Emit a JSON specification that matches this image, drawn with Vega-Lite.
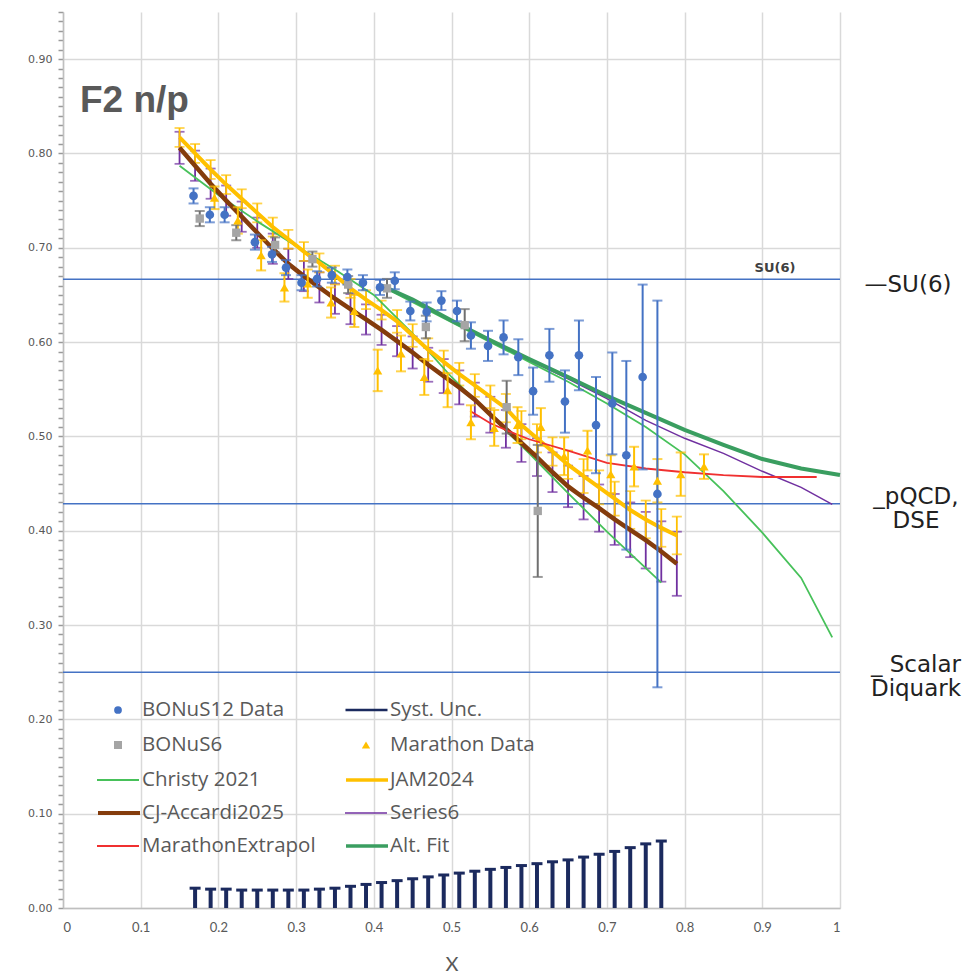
{
  "$schema": "https://vega.github.io/schema/vega-lite/v6.json",
  "width": 777,
  "height": 896,
  "autosize": {"type": "none"},
  "padding": {"left": 63, "top": 12, "right": 139, "bottom": 67},
  "background": "white",
  "config": {
    "view": {"stroke": null},
    "axis": {"domainColor": "#bfbfbf", "domainWidth": 1.5, "gridColor": "#d9d9d9", "gridWidth": 1.5, "tickColor": "#9a9a9a", "labelColor": "#595959"},
    "legend": {"orient": "none", "labelFont": "Open Sans", "labelFontSize": 20.5, "labelColor": "#595959", "labelLimit": 400, "clipHeight": 20, "padding": 0, "symbolSize": 1764, "labelOffset": 2}
  },
  "title": {"text": "F2 n/p", "anchor": "start", "frame": "group", "offset": 0, "dx": 17, "dy": 138, "baseline": "alphabetic", "font": "Liberation Sans", "fontSize": 37, "fontWeight": "bold", "color": "#595959"},
  "resolve": {"scale": {"color": "independent"}},
  "datasets": {
    "refs": [
      {"y": 0.6667, "x0": 0, "x1": 1, "lab": "—SU(6)", "inner": "SU(6)"},
      {"y": 0.4286, "x0": 0, "x1": 1, "lab": "_pQCD,\nDSE", "inner": ""},
      {"y": 0.25, "x0": 0, "x1": 1, "lab": "_ Scalar\nDiquark", "inner": ""}
    ],
    "syst": [
      {"series": "Syst. Unc.", "x": 0.17, "y": 0.021}, {"series": "Syst. Unc.", "x": 0.19, "y": 0.020}, {"series": "Syst. Unc.", "x": 0.21, "y": 0.020}, {"series": "Syst. Unc.", "x": 0.23, "y": 0.019}, {"series": "Syst. Unc.", "x": 0.25, "y": 0.019}, {"series": "Syst. Unc.", "x": 0.27, "y": 0.019}, {"series": "Syst. Unc.", "x": 0.29, "y": 0.019}, {"series": "Syst. Unc.", "x": 0.31, "y": 0.019}, {"series": "Syst. Unc.", "x": 0.33, "y": 0.020}, {"series": "Syst. Unc.", "x": 0.35, "y": 0.021}, {"series": "Syst. Unc.", "x": 0.37, "y": 0.023}, {"series": "Syst. Unc.", "x": 0.39, "y": 0.025}, {"series": "Syst. Unc.", "x": 0.41, "y": 0.027}, {"series": "Syst. Unc.", "x": 0.43, "y": 0.029}, {"series": "Syst. Unc.", "x": 0.45, "y": 0.031}, {"series": "Syst. Unc.", "x": 0.47, "y": 0.033}, {"series": "Syst. Unc.", "x": 0.49, "y": 0.035}, {"series": "Syst. Unc.", "x": 0.51, "y": 0.037}, {"series": "Syst. Unc.", "x": 0.53, "y": 0.039}, {"series": "Syst. Unc.", "x": 0.55, "y": 0.041}, {"series": "Syst. Unc.", "x": 0.57, "y": 0.043}, {"series": "Syst. Unc.", "x": 0.59, "y": 0.045}, {"series": "Syst. Unc.", "x": 0.61, "y": 0.047}, {"series": "Syst. Unc.", "x": 0.63, "y": 0.049}, {"series": "Syst. Unc.", "x": 0.65, "y": 0.051}, {"series": "Syst. Unc.", "x": 0.67, "y": 0.054}, {"series": "Syst. Unc.", "x": 0.69, "y": 0.057}, {"series": "Syst. Unc.", "x": 0.71, "y": 0.060}, {"series": "Syst. Unc.", "x": 0.73, "y": 0.064}, {"series": "Syst. Unc.", "x": 0.75, "y": 0.068}, {"series": "Syst. Unc.", "x": 0.77, "y": 0.071}
    ],
    "cj": [
      {"series": "CJ-Accardi2025", "x": 0.15, "y": 0.806, "e": 0.017}, {"series": "CJ-Accardi2025", "x": 0.17, "y": 0.787, "e": 0.016}, {"series": "CJ-Accardi2025", "x": 0.19, "y": 0.768, "e": 0.016}, {"series": "CJ-Accardi2025", "x": 0.21, "y": 0.750, "e": 0.016}, {"series": "CJ-Accardi2025", "x": 0.23, "y": 0.733, "e": 0.016}, {"series": "CJ-Accardi2025", "x": 0.25, "y": 0.716, "e": 0.016}, {"series": "CJ-Accardi2025", "x": 0.27, "y": 0.699, "e": 0.016}, {"series": "CJ-Accardi2025", "x": 0.29, "y": 0.683, "e": 0.016}, {"series": "CJ-Accardi2025", "x": 0.31, "y": 0.670, "e": 0.016}, {"series": "CJ-Accardi2025", "x": 0.33, "y": 0.658, "e": 0.016}, {"series": "CJ-Accardi2025", "x": 0.35, "y": 0.646, "e": 0.016}, {"series": "CJ-Accardi2025", "x": 0.37, "y": 0.635, "e": 0.016}, {"series": "CJ-Accardi2025", "x": 0.39, "y": 0.624, "e": 0.016}, {"series": "CJ-Accardi2025", "x": 0.41, "y": 0.613, "e": 0.016}, {"series": "CJ-Accardi2025", "x": 0.43, "y": 0.601, "e": 0.016}, {"series": "CJ-Accardi2025", "x": 0.45, "y": 0.589, "e": 0.017}, {"series": "CJ-Accardi2025", "x": 0.47, "y": 0.576, "e": 0.018}, {"series": "CJ-Accardi2025", "x": 0.49, "y": 0.564, "e": 0.018}, {"series": "CJ-Accardi2025", "x": 0.51, "y": 0.552, "e": 0.018}, {"series": "CJ-Accardi2025", "x": 0.53, "y": 0.539, "e": 0.018}, {"series": "CJ-Accardi2025", "x": 0.55, "y": 0.523, "e": 0.019}, {"series": "CJ-Accardi2025", "x": 0.57, "y": 0.508, "e": 0.020}, {"series": "CJ-Accardi2025", "x": 0.59, "y": 0.493, "e": 0.020}, {"series": "CJ-Accardi2025", "x": 0.61, "y": 0.478, "e": 0.020}, {"series": "CJ-Accardi2025", "x": 0.63, "y": 0.462, "e": 0.021}, {"series": "CJ-Accardi2025", "x": 0.65, "y": 0.447, "e": 0.022}, {"series": "CJ-Accardi2025", "x": 0.67, "y": 0.435, "e": 0.023}, {"series": "CJ-Accardi2025", "x": 0.69, "y": 0.424, "e": 0.025}, {"series": "CJ-Accardi2025", "x": 0.71, "y": 0.412, "e": 0.027}, {"series": "CJ-Accardi2025", "x": 0.73, "y": 0.401, "e": 0.029}, {"series": "CJ-Accardi2025", "x": 0.75, "y": 0.390, "e": 0.030}, {"series": "CJ-Accardi2025", "x": 0.77, "y": 0.378, "e": 0.032}, {"series": "CJ-Accardi2025", "x": 0.79, "y": 0.365, "e": 0.034}
    ],
    "jam": [
      {"series": "JAM2024", "x": 0.15, "y": 0.817, "e": 0.010}, {"series": "JAM2024", "x": 0.17, "y": 0.800, "e": 0.010}, {"series": "JAM2024", "x": 0.19, "y": 0.783, "e": 0.010}, {"series": "JAM2024", "x": 0.21, "y": 0.767, "e": 0.010}, {"series": "JAM2024", "x": 0.23, "y": 0.752, "e": 0.010}, {"series": "JAM2024", "x": 0.25, "y": 0.737, "e": 0.010}, {"series": "JAM2024", "x": 0.27, "y": 0.722, "e": 0.010}, {"series": "JAM2024", "x": 0.29, "y": 0.709, "e": 0.010}, {"series": "JAM2024", "x": 0.31, "y": 0.696, "e": 0.010}, {"series": "JAM2024", "x": 0.33, "y": 0.684, "e": 0.010}, {"series": "JAM2024", "x": 0.35, "y": 0.671, "e": 0.010}, {"series": "JAM2024", "x": 0.37, "y": 0.657, "e": 0.010}, {"series": "JAM2024", "x": 0.39, "y": 0.645, "e": 0.010}, {"series": "JAM2024", "x": 0.41, "y": 0.634, "e": 0.010}, {"series": "JAM2024", "x": 0.43, "y": 0.622, "e": 0.012}, {"series": "JAM2024", "x": 0.45, "y": 0.607, "e": 0.012}, {"series": "JAM2024", "x": 0.47, "y": 0.592, "e": 0.012}, {"series": "JAM2024", "x": 0.49, "y": 0.579, "e": 0.012}, {"series": "JAM2024", "x": 0.51, "y": 0.566, "e": 0.012}, {"series": "JAM2024", "x": 0.53, "y": 0.554, "e": 0.012}, {"series": "JAM2024", "x": 0.55, "y": 0.542, "e": 0.012}, {"series": "JAM2024", "x": 0.57, "y": 0.530, "e": 0.015}, {"series": "JAM2024", "x": 0.59, "y": 0.512, "e": 0.015}, {"series": "JAM2024", "x": 0.61, "y": 0.498, "e": 0.015}, {"series": "JAM2024", "x": 0.63, "y": 0.484, "e": 0.015}, {"series": "JAM2024", "x": 0.65, "y": 0.470, "e": 0.015}, {"series": "JAM2024", "x": 0.67, "y": 0.458, "e": 0.018}, {"series": "JAM2024", "x": 0.69, "y": 0.446, "e": 0.018}, {"series": "JAM2024", "x": 0.71, "y": 0.434, "e": 0.018}, {"series": "JAM2024", "x": 0.73, "y": 0.422, "e": 0.020}, {"series": "JAM2024", "x": 0.75, "y": 0.412, "e": 0.020}, {"series": "JAM2024", "x": 0.77, "y": 0.403, "e": 0.020}, {"series": "JAM2024", "x": 0.79, "y": 0.395, "e": 0.020}
    ],
    "curves": [
      {"series": "Christy 2021", "seg": "a", "x": 0.15, "y": 0.787}, {"series": "Christy 2021", "seg": "a", "x": 0.2, "y": 0.756}, {"series": "Christy 2021", "seg": "a", "x": 0.25, "y": 0.728}, {"series": "Christy 2021", "seg": "a", "x": 0.3, "y": 0.702}, {"series": "Christy 2021", "seg": "a", "x": 0.35, "y": 0.677}, {"series": "Christy 2021", "seg": "a", "x": 0.4, "y": 0.650}, {"series": "Christy 2021", "seg": "a", "x": 0.45, "y": 0.609}, {"series": "Christy 2021", "seg": "a", "x": 0.5, "y": 0.563}, {"series": "Christy 2021", "seg": "a", "x": 0.55, "y": 0.522}, {"series": "Christy 2021", "seg": "a", "x": 0.6, "y": 0.482}, {"series": "Christy 2021", "seg": "a", "x": 0.65, "y": 0.440}, {"series": "Christy 2021", "seg": "a", "x": 0.7, "y": 0.399}, {"series": "Christy 2021", "seg": "a", "x": 0.77, "y": 0.345},
      {"series": "Christy 2021", "seg": "b", "x": 0.42, "y": 0.655}, {"series": "Christy 2021", "seg": "b", "x": 0.5, "y": 0.621}, {"series": "Christy 2021", "seg": "b", "x": 0.55, "y": 0.600}, {"series": "Christy 2021", "seg": "b", "x": 0.6, "y": 0.579}, {"series": "Christy 2021", "seg": "b", "x": 0.65, "y": 0.558}, {"series": "Christy 2021", "seg": "b", "x": 0.7, "y": 0.535}, {"series": "Christy 2021", "seg": "b", "x": 0.75, "y": 0.510}, {"series": "Christy 2021", "seg": "b", "x": 0.8, "y": 0.481}, {"series": "Christy 2021", "seg": "b", "x": 0.85, "y": 0.442}, {"series": "Christy 2021", "seg": "b", "x": 0.9, "y": 0.398}, {"series": "Christy 2021", "seg": "b", "x": 0.95, "y": 0.350}, {"series": "Christy 2021", "seg": "b", "x": 0.99, "y": 0.287},
      {"series": "Series6", "seg": "a", "x": 0.42, "y": 0.657}, {"series": "Series6", "seg": "a", "x": 0.5, "y": 0.622}, {"series": "Series6", "seg": "a", "x": 0.6, "y": 0.581}, {"series": "Series6", "seg": "a", "x": 0.65, "y": 0.561}, {"series": "Series6", "seg": "a", "x": 0.7, "y": 0.540}, {"series": "Series6", "seg": "a", "x": 0.75, "y": 0.517}, {"series": "Series6", "seg": "a", "x": 0.8, "y": 0.498}, {"series": "Series6", "seg": "a", "x": 0.85, "y": 0.482}, {"series": "Series6", "seg": "a", "x": 0.9, "y": 0.463}, {"series": "Series6", "seg": "a", "x": 0.95, "y": 0.446}, {"series": "Series6", "seg": "a", "x": 0.99, "y": 0.428},
      {"series": "MarathonExtrapol", "seg": "a", "x": 0.524, "y": 0.527}, {"series": "MarathonExtrapol", "seg": "a", "x": 0.55, "y": 0.514}, {"series": "MarathonExtrapol", "seg": "a", "x": 0.575, "y": 0.505}, {"series": "MarathonExtrapol", "seg": "a", "x": 0.6, "y": 0.497}, {"series": "MarathonExtrapol", "seg": "a", "x": 0.65, "y": 0.485}, {"series": "MarathonExtrapol", "seg": "a", "x": 0.7, "y": 0.472}, {"series": "MarathonExtrapol", "seg": "a", "x": 0.75, "y": 0.466}, {"series": "MarathonExtrapol", "seg": "a", "x": 0.8, "y": 0.462}, {"series": "MarathonExtrapol", "seg": "a", "x": 0.85, "y": 0.459}, {"series": "MarathonExtrapol", "seg": "a", "x": 0.9, "y": 0.457}, {"series": "MarathonExtrapol", "seg": "a", "x": 0.97, "y": 0.457},
      {"series": "Alt. Fit", "seg": "a", "x": 0.41, "y": 0.660}, {"series": "Alt. Fit", "seg": "a", "x": 0.45, "y": 0.645}, {"series": "Alt. Fit", "seg": "a", "x": 0.5, "y": 0.623}, {"series": "Alt. Fit", "seg": "a", "x": 0.55, "y": 0.602}, {"series": "Alt. Fit", "seg": "a", "x": 0.6, "y": 0.582}, {"series": "Alt. Fit", "seg": "a", "x": 0.65, "y": 0.563}, {"series": "Alt. Fit", "seg": "a", "x": 0.7, "y": 0.543}, {"series": "Alt. Fit", "seg": "a", "x": 0.75, "y": 0.525}, {"series": "Alt. Fit", "seg": "a", "x": 0.8, "y": 0.507}, {"series": "Alt. Fit", "seg": "a", "x": 0.85, "y": 0.491}, {"series": "Alt. Fit", "seg": "a", "x": 0.9, "y": 0.476}, {"series": "Alt. Fit", "seg": "a", "x": 0.95, "y": 0.466}, {"series": "Alt. Fit", "seg": "a", "x": 1.0, "y": 0.459}
    ],
    "pts": [
      {"series": "BONuS12 Data", "x": 0.168, "y": 0.755, "e": 0.008}, {"series": "BONuS12 Data", "x": 0.189, "y": 0.735, "e": 0.008}, {"series": "BONuS12 Data", "x": 0.208, "y": 0.735, "e": 0.008}, {"series": "BONuS12 Data", "x": 0.247, "y": 0.706, "e": 0.008}, {"series": "BONuS12 Data", "x": 0.269, "y": 0.693, "e": 0.008}, {"series": "BONuS12 Data", "x": 0.287, "y": 0.679, "e": 0.008}, {"series": "BONuS12 Data", "x": 0.307, "y": 0.663, "e": 0.008}, {"series": "BONuS12 Data", "x": 0.327, "y": 0.667, "e": 0.008}, {"series": "BONuS12 Data", "x": 0.346, "y": 0.671, "e": 0.008}, {"series": "BONuS12 Data", "x": 0.366, "y": 0.669, "e": 0.008}, {"series": "BONuS12 Data", "x": 0.386, "y": 0.663, "e": 0.008}, {"series": "BONuS12 Data", "x": 0.408, "y": 0.658, "e": 0.008}, {"series": "BONuS12 Data", "x": 0.427, "y": 0.665, "e": 0.009}, {"series": "BONuS12 Data", "x": 0.447, "y": 0.633, "e": 0.010}, {"series": "BONuS12 Data", "x": 0.468, "y": 0.632, "e": 0.010}, {"series": "BONuS12 Data", "x": 0.487, "y": 0.644, "e": 0.010}, {"series": "BONuS12 Data", "x": 0.507, "y": 0.633, "e": 0.011}, {"series": "BONuS12 Data", "x": 0.525, "y": 0.607, "e": 0.014}, {"series": "BONuS12 Data", "x": 0.547, "y": 0.596, "e": 0.016}, {"series": "BONuS12 Data", "x": 0.567, "y": 0.605, "e": 0.018}, {"series": "BONuS12 Data", "x": 0.586, "y": 0.584, "e": 0.019}, {"series": "BONuS12 Data", "x": 0.605, "y": 0.548, "e": 0.025}, {"series": "BONuS12 Data", "x": 0.626, "y": 0.586, "e": 0.028}, {"series": "BONuS12 Data", "x": 0.646, "y": 0.537, "e": 0.033}, {"series": "BONuS12 Data", "x": 0.664, "y": 0.586, "e": 0.037}, {"series": "BONuS12 Data", "x": 0.686, "y": 0.512, "e": 0.051}, {"series": "BONuS12 Data", "x": 0.707, "y": 0.535, "e": 0.054}, {"series": "BONuS12 Data", "x": 0.725, "y": 0.480, "e": 0.100}, {"series": "BONuS12 Data", "x": 0.746, "y": 0.563, "e": 0.098}, {"series": "BONuS12 Data", "x": 0.765, "y": 0.439, "e": 0.205},
      {"series": "BONuS6", "x": 0.176, "y": 0.731, "e": 0.008}, {"series": "BONuS6", "x": 0.223, "y": 0.716, "e": 0.008}, {"series": "BONuS6", "x": 0.273, "y": 0.703, "e": 0.008}, {"series": "BONuS6", "x": 0.321, "y": 0.688, "e": 0.008}, {"series": "BONuS6", "x": 0.367, "y": 0.661, "e": 0.009}, {"series": "BONuS6", "x": 0.417, "y": 0.657, "e": 0.010}, {"series": "BONuS6", "x": 0.467, "y": 0.616, "e": 0.012}, {"series": "BONuS6", "x": 0.517, "y": 0.618, "e": 0.017}, {"series": "BONuS6", "x": 0.571, "y": 0.531, "e": 0.028}, {"series": "BONuS6", "x": 0.611, "y": 0.421, "e": 0.070},
      {"series": "Marathon Data", "x": 0.195, "y": 0.753, "e": 0.012}, {"series": "Marathon Data", "x": 0.225, "y": 0.729, "e": 0.014}, {"series": "Marathon Data", "x": 0.255, "y": 0.692, "e": 0.016}, {"series": "Marathon Data", "x": 0.285, "y": 0.658, "e": 0.015}, {"series": "Marathon Data", "x": 0.315, "y": 0.662, "e": 0.015}, {"series": "Marathon Data", "x": 0.345, "y": 0.642, "e": 0.016}, {"series": "Marathon Data", "x": 0.375, "y": 0.633, "e": 0.017}, {"series": "Marathon Data", "x": 0.405, "y": 0.570, "e": 0.022}, {"series": "Marathon Data", "x": 0.435, "y": 0.588, "e": 0.019}, {"series": "Marathon Data", "x": 0.465, "y": 0.563, "e": 0.019}, {"series": "Marathon Data", "x": 0.495, "y": 0.549, "e": 0.018}, {"series": "Marathon Data", "x": 0.525, "y": 0.515, "e": 0.018}, {"series": "Marathon Data", "x": 0.555, "y": 0.509, "e": 0.019}, {"series": "Marathon Data", "x": 0.585, "y": 0.512, "e": 0.019}, {"series": "Marathon Data", "x": 0.615, "y": 0.510, "e": 0.020}, {"series": "Marathon Data", "x": 0.645, "y": 0.479, "e": 0.020}, {"series": "Marathon Data", "x": 0.675, "y": 0.485, "e": 0.021}, {"series": "Marathon Data", "x": 0.705, "y": 0.460, "e": 0.020}, {"series": "Marathon Data", "x": 0.735, "y": 0.468, "e": 0.021}, {"series": "Marathon Data", "x": 0.765, "y": 0.453, "e": 0.023}, {"series": "Marathon Data", "x": 0.795, "y": 0.460, "e": 0.023}, {"series": "Marathon Data", "x": 0.825, "y": 0.468, "e": 0.013}
    ]
  },
  "encoding": {
    "x": {
      "field": "x", "type": "quantitative",
      "scale": {"domain": [0, 1], "nice": false, "zero": false},
      "axis": {"values": [0, 0.1, 0.2, 0.3, 0.4, 0.5, 0.6, 0.7, 0.8, 0.9, 1], "labelExpr": "datum.value === 0 ? '0' : datum.value === 1 ? '1' : format(datum.value, '.1f')", "title": "X", "titleFont": "Lato", "titleFontSize": 20, "titleFontWeight": "normal", "titleColor": "#595959", "labelFont": "Lato", "labelFontSize": 13, "ticks": false, "labelPadding": 13, "titlePadding": 20, "grid": true}
    },
    "y": {
      "field": "y", "type": "quantitative",
      "scale": {"domain": [0, 0.95], "nice": false, "zero": false},
      "axis": {
        "values": [0, 0.01, 0.02, 0.03, 0.04, 0.05, 0.06, 0.07, 0.08, 0.09, 0.1, 0.11, 0.12, 0.13, 0.14, 0.15, 0.16, 0.17, 0.18, 0.19, 0.2, 0.21, 0.22, 0.23, 0.24, 0.25, 0.26, 0.27, 0.28, 0.29, 0.3, 0.31, 0.32, 0.33, 0.34, 0.35, 0.36, 0.37, 0.38, 0.39, 0.4, 0.41, 0.42, 0.43, 0.44, 0.45, 0.46, 0.47, 0.48, 0.49, 0.5, 0.51, 0.52, 0.53, 0.54, 0.55, 0.56, 0.57, 0.58, 0.59, 0.6, 0.61, 0.62, 0.63, 0.64, 0.65, 0.66, 0.67, 0.68, 0.69, 0.7, 0.71, 0.72, 0.73, 0.74, 0.75, 0.76, 0.77, 0.78, 0.79, 0.8, 0.81, 0.82, 0.83, 0.84, 0.85, 0.86, 0.87, 0.88, 0.89, 0.9, 0.91, 0.92, 0.93, 0.94, 0.95],
        "labelExpr": "round(datum.value * 100) % 10 === 0 ? format(datum.value, '.2f') : ''",
        "gridOpacity": {"condition": {"test": "round(datum.value * 100) % 10 === 0", "value": 1}, "value": 0},
        "tickSize": 5, "ticks": true, "tickWidth": 1.5, "tickOpacity": 1,
        "title": null, "labelFont": "DejaVu Sans", "labelFontSize": 11, "labelPadding": 6, "grid": true
      }
    }
  },
  "layer": [
    {"data": {"name": "refs"}, "mark": {"type": "rule", "color": "#4472C4", "strokeWidth": 1.5}, "encoding": {"x": {"field": "x0", "type": "quantitative"}, "x2": {"field": "x1"}}},
    {"data": {"name": "refs"}, "mark": {"type": "text", "font": "DejaVu Sans", "fontSize": 13, "fontWeight": "bold", "fill": "#404040", "align": "center", "baseline": "alphabetic", "dx": -65, "dy": -7}, "encoding": {"x": {"field": "x1", "type": "quantitative"}, "text": {"field": "inner", "type": "nominal"}}},
    {"data": {"name": "refs"}, "transform": [{"filter": "datum.inner !== ''"}], "mark": {"type": "text", "font": "DejaVu Sans", "fontSize": 23, "fill": "#222222", "align": "center", "baseline": "middle", "dx": 68, "dy": 6}, "encoding": {"x": {"field": "x1", "type": "quantitative"}, "text": {"field": "lab", "type": "nominal"}}},
    {"data": {"name": "refs"}, "transform": [{"filter": "datum.inner === ''"}], "mark": {"type": "text", "font": "DejaVu Sans", "fontSize": 23, "fill": "#222222", "align": "center", "baseline": "middle", "lineBreak": "\n", "lineHeight": 24, "dx": 76, "dy": -7}, "encoding": {"x": {"field": "x1", "type": "quantitative"}, "text": {"field": "lab", "type": "nominal"}}},
    {"data": {"name": "syst"}, "mark": {"type": "rule", "color": "#1B2A5E", "strokeWidth": 4}, "encoding": {"y2": {"datum": 0}}},
    {"data": {"name": "syst"}, "mark": {"type": "point", "shape": "stroke", "size": 121, "strokeWidth": 3, "filled": false, "opacity": 1},
      "encoding": {"color": {"field": "series", "type": "nominal", "scale": {"domain": ["Syst. Unc."], "range": ["#1B2A5E"]}, "legend": {"title": null, "legendX": 281, "legendY": 688, "symbolStrokeWidth": 2.5, "labelOffset": 1}}}},
    {"data": {"name": "cj"}, "mark": {"type": "errorbar", "color": "#7030A0", "ticks": {"size": 10, "thickness": 1.8}, "rule": {"strokeWidth": 1.8}}, "encoding": {"yError": {"field": "e"}}},
    {"data": {"name": "jam"}, "mark": {"type": "errorbar", "color": "#FFC000", "ticks": {"size": 10, "thickness": 1.8}, "rule": {"strokeWidth": 1.8}}, "encoding": {"yError": {"field": "e"}}},
    {"data": {"name": "curves"}, "transform": [{"filter": "datum.series === 'Christy 2021'"}], "mark": {"type": "line", "strokeWidth": 1.8},
      "encoding": {"detail": {"field": "seg"}, "color": {"field": "series", "type": "nominal", "scale": {"domain": ["Christy 2021"], "range": ["#47C15A"]}, "legend": {"title": null, "legendX": 33, "legendY": 758, "symbolStrokeWidth": 1.8}}}},
    {"data": {"name": "jam"}, "mark": {"type": "line", "strokeWidth": 4},
      "encoding": {"color": {"field": "series", "type": "nominal", "scale": {"domain": ["JAM2024"], "range": ["#FFC000"]}, "legend": {"title": null, "legendX": 281, "legendY": 758, "symbolStrokeWidth": 3.5, "labelOffset": 0}}}},
    {"data": {"name": "cj"}, "mark": {"type": "line", "strokeWidth": 4.5},
      "encoding": {"color": {"field": "series", "type": "nominal", "scale": {"domain": ["CJ-Accardi2025"], "range": ["#843C0C"]}, "legend": {"title": null, "legendX": 33, "legendY": 791, "symbolStrokeWidth": 4, "labelOffset": 0}}}},
    {"data": {"name": "curves"}, "transform": [{"filter": "datum.series === 'Series6'"}], "mark": {"type": "line", "strokeWidth": 1.5},
      "encoding": {"color": {"field": "series", "type": "nominal", "scale": {"domain": ["Series6"], "range": ["#7030A0"]}, "legend": {"title": null, "legendX": 281, "legendY": 791, "symbolStrokeWidth": 1.5}}}},
    {"data": {"name": "curves"}, "transform": [{"filter": "datum.series === 'MarathonExtrapol'"}], "mark": {"type": "line", "strokeWidth": 1.8},
      "encoding": {"color": {"field": "series", "type": "nominal", "scale": {"domain": ["MarathonExtrapol"], "range": ["#F03030"]}, "legend": {"title": null, "legendX": 33, "legendY": 824, "symbolStrokeWidth": 1.8}}}},
    {"data": {"name": "curves"}, "transform": [{"filter": "datum.series === 'Alt. Fit'"}], "mark": {"type": "line", "strokeWidth": 4},
      "encoding": {"color": {"field": "series", "type": "nominal", "scale": {"domain": ["Alt. Fit"], "range": ["#3A9E60"]}, "legend": {"title": null, "legendX": 281, "legendY": 824, "symbolStrokeWidth": 3.5, "labelOffset": 0}}}},
    {"data": {"name": "pts"}, "transform": [{"filter": "datum.series === 'Marathon Data'"}], "mark": {"type": "errorbar", "color": "#FFC000", "ticks": {"size": 10, "thickness": 2}, "rule": {"strokeWidth": 2}}, "encoding": {"yError": {"field": "e"}}},
    {"data": {"name": "pts"}, "transform": [{"filter": "datum.series === 'BONuS6'"}], "mark": {"type": "errorbar", "color": "#6F6F6F", "ticks": {"size": 10, "thickness": 2}, "rule": {"strokeWidth": 2}}, "encoding": {"yError": {"field": "e"}}},
    {"data": {"name": "pts"}, "transform": [{"filter": "datum.series === 'BONuS12 Data'"}], "mark": {"type": "errorbar", "color": "#4472C4", "ticks": {"size": 10, "thickness": 2}, "rule": {"strokeWidth": 2}}, "encoding": {"yError": {"field": "e"}}},
    {"data": {"name": "pts"}, "transform": [{"filter": "datum.series === 'Marathon Data'"}], "mark": {"type": "point", "shape": "triangle-up", "filled": true, "size": 85, "opacity": 1},
      "encoding": {"color": {"field": "series", "type": "nominal", "scale": {"domain": ["Marathon Data"], "range": ["#FFC000"]}, "legend": {"title": null, "legendX": 281, "legendY": 723, "symbolSize": 70, "symbolOffset": 11.75, "labelOffset": 13.75}}}},
    {"data": {"name": "pts"}, "transform": [{"filter": "datum.series === 'BONuS6'"}], "mark": {"type": "point", "shape": "square", "filled": true, "size": 70, "opacity": 1},
      "encoding": {"color": {"field": "series", "type": "nominal", "scale": {"domain": ["BONuS6"], "range": ["#A5A5A5"]}, "legend": {"title": null, "legendX": 33, "legendY": 723, "symbolSize": 64, "symbolOffset": 11.75, "labelOffset": 13.75}}}},
    {"data": {"name": "pts"}, "transform": [{"filter": "datum.series === 'BONuS12 Data'"}], "mark": {"type": "point", "shape": "circle", "filled": true, "size": 75, "opacity": 1},
      "encoding": {"color": {"field": "series", "type": "nominal", "scale": {"domain": ["BONuS12 Data"], "range": ["#4472C4"]}, "legend": {"title": null, "legendX": 33, "legendY": 688, "symbolSize": 60, "symbolOffset": 11.75, "labelOffset": 13.75}}}}
  ]
}
